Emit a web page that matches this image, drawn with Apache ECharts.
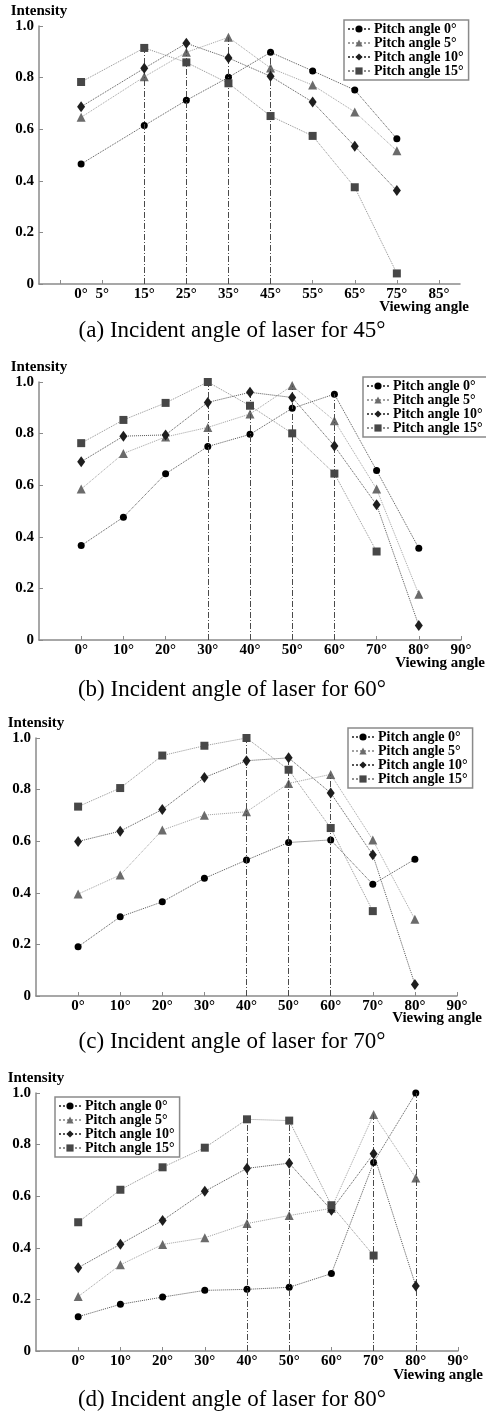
<!DOCTYPE html>
<html>
<head>
<meta charset="utf-8">
<script src="https://cdn.jsdelivr.net/npm/echarts@6/dist/echarts.min.js"></script>
<style>
  html, body { margin: 0; background: #fff; }
  #chart { width: 486px; height: 1414px; }
</style>
</head>
<body>
<div id="chart"></div>
<script>
// data
const pitchNames = ['Pitch angle 0°', 'Pitch angle 5°', 'Pitch angle 10°', 'Pitch angle 15°']
const captions = [
  '(a) Incident angle of laser for 45°',
  '(b) Incident angle of laser for 60°',
  '(c) Incident angle of laser for 70°',
  '(d) Incident angle of laser for 80°'
]

// (a) incident 45°
const anglesA = [0, 15, 25, 35, 45, 55, 65, 75]
const pitch0A = [0.465, 0.614, 0.712, 0.801, 0.898, 0.826, 0.752, 0.563]
const pitch5A = [0.646, 0.803, 0.898, 0.956, 0.837, 0.771, 0.667, 0.516]
const pitch10A = [0.687, 0.836, 0.933, 0.876, 0.805, 0.705, 0.534, 0.362]
const pitch15A = [0.783, 0.915, 0.859, 0.778, 0.651, 0.574, 0.375, 0.041]
const dropsA = [[45], [35], [25], [15]]
const tickValuesA = [-5, 5, 15, 25, 35, 45, 55, 65, 75, 85]
const labelValuesA = [0, 5, 15, 25, 35, 45, 55, 65, 75, 85]

// (b), (c), (d) share the same viewing angles
const angles = [0, 10, 20, 30, 40, 50, 60, 70, 80]
const tickValues = [0, 10, 20, 30, 40, 50, 60, 70, 80, 90]
const labelValues = [0, 10, 20, 30, 40, 50, 60, 70, 80, 90]

// (b) incident 60°
const pitch0B = [0.366, 0.476, 0.644, 0.750, 0.797, 0.898, 0.953, 0.657, 0.356]
const pitch5B = [0.585, 0.723, 0.787, 0.824, 0.876, 0.986, 0.850, 0.585, 0.177]
const pitch10B = [0.691, 0.790, 0.795, 0.921, 0.960, 0.940, 0.752, 0.524, 0.056]
const pitch15B = [0.763, 0.853, 0.919, 1.0, 0.908, 0.801, 0.645, 0.343, null]
const dropsB = [[60], [50], [40], [30]]

// (c) incident 70°
const pitch0C = [0.191, 0.307, 0.365, 0.456, 0.527, 0.595, 0.605, 0.433, 0.530]
const pitch5C = [0.395, 0.469, 0.643, 0.701, 0.714, 0.824, 0.859, 0.605, 0.297]
const pitch10C = [0.599, 0.639, 0.723, 0.847, 0.912, 0.923, 0.787, 0.547, 0.045]
const pitch15C = [0.734, 0.806, 0.932, 0.970, 1.0, 0.877, 0.651, 0.329, null]
const dropsC = [[60], [60], [50], [40]]

// (d) incident 80°
const pitch0D = [0.133, 0.181, 0.209, 0.235, 0.239, 0.247, 0.300, 0.731, 1.0]
const pitch5D = [0.211, 0.334, 0.413, 0.439, 0.494, 0.525, 0.553, 0.917, 0.671]
const pitch10D = [0.323, 0.414, 0.506, 0.619, 0.708, 0.728, 0.546, 0.765, 0.252]
const pitch15D = [0.499, 0.625, 0.712, 0.788, 0.898, 0.893, 0.565, 0.370, null]
const dropsD = [[80], [70], [70], [40, 50]]

const yTicks = [0, 0.2, 0.4, 0.6, 0.8, 1.0]

const panels = [
  { x: anglesA, series: [pitch0A, pitch5A, pitch10A, pitch15A], drops: dropsA, ticks: tickValuesA, labels: labelValuesA, step: 5 },
  { x: angles, series: [pitch0B, pitch5B, pitch10B, pitch15B], drops: dropsB, ticks: tickValues, labels: labelValues, step: 10 },
  { x: angles, series: [pitch0C, pitch5C, pitch10C, pitch15C], drops: dropsC, ticks: tickValues, labels: labelValues, step: 10 },
  { x: angles, series: [pitch0D, pitch5D, pitch10D, pitch15D], drops: dropsD, ticks: tickValues, labels: labelValues, step: 10 }
]

// layout (pixels) and looks
const grids = [
  { left: 39, top: 26, width: 421, height: 258 },
  { left: 39, top: 382, width: 422, height: 258 },
  { left: 36, top: 738, width: 421, height: 258 },
  { left: 36, top: 1093, width: 422, height: 258 }
]
const legendPos = [
  { left: 344, top: 20 },
  { left: 363, top: 377 },
  { left: 348, top: 728 },
  { left: 55, top: 1097 }
]
const xNamePos = [[469, 307], [485, 663], [482, 1018], [483, 1375]]
const captionPos = [[232, 331], [232, 690], [232, 1042], [232, 1400]]

const looks = [
  { symbol: 'circle', size: 7, color: '#000', line: '#555' },
  { symbol: 'triangle', size: 9, color: '#6b6b6b', line: '#a0a0a0' },
  { symbol: 'diamond', size: [8, 11], color: '#1e1e1e', line: '#555' },
  { symbol: 'rect', size: 8, color: '#474747', line: '#909090' }
]

const serif = '"Liberation Serif", "Times New Roman", serif'
const axisGray = '#8a8a8a'

const series = []
panels.forEach((p, gi) => {
  p.series.forEach((vals, si) => {
    const look = looks[si]
    const pts = p.x.map((a, i) => [a, vals[i]]).filter(d => d[1] !== null)
    const yAt = a => vals[p.x.indexOf(a)]
    series.push({
      name: pitchNames[si],
      type: 'line',
      xAxisIndex: gi,
      yAxisIndex: gi,
      data: pts,
      symbol: look.symbol,
      symbolSize: look.size,
      itemStyle: { color: look.color },
      lineStyle: { color: look.line, width: 1, type: 'dotted' },
      z: 3 + si,
      markLine: {
        silent: true,
        symbol: 'none',
        label: { show: false },
        lineStyle: { color: '#4a4a4a', width: 1, type: [6, 2, 1, 2] },
        // drawn from the axis upward so overlapping drops share one dash pattern
        data: p.drops[si].map(a => [{ coord: [a, 0] }, { coord: [a, yAt(a)] }])
      }
    })
  })
})

const graphic = []
xNamePos.forEach(([x, y]) => {
  graphic.push({
    type: 'text', x, y,
    style: { text: 'Viewing angle', textAlign: 'right', textVerticalAlign: 'middle', font: `bold 15px ${serif}`, fill: '#000' }
  })
})
captionPos.forEach(([x, y], i) => {
  graphic.push({
    type: 'text', x, y,
    style: { text: captions[i], textAlign: 'center', textVerticalAlign: 'middle', font: `23px ${serif}`, fill: '#000' }
  })
})

const option = {
  animation: false,
  backgroundColor: '#fff',
  grid: grids,
  xAxis: panels.map((p, i) => ({
    type: 'value',
    gridIndex: i,
    min: -10,
    max: 90,
    interval: p.step,
    splitLine: { show: false },
    axisLine: { onZero: false, lineStyle: { color: axisGray, width: 1.5 } },
    axisTick: { inside: true, length: 4, customValues: p.ticks, lineStyle: { color: axisGray } },
    axisLabel: {
      customValues: p.labels,
      formatter: v => v + '°',
      margin: 3,
      color: '#000',
      fontFamily: serif,
      fontWeight: 'bold',
      fontSize: 15
    }
  })),
  yAxis: panels.map((p, i) => ({
    type: 'value',
    gridIndex: i,
    min: 0,
    max: 1,
    interval: 0.2,
    name: 'Intensity',
    nameLocation: 'end',
    nameGap: 6,
    nameTextStyle: { color: '#000', fontFamily: serif, fontWeight: 'bold', fontSize: 15 },
    splitLine: { show: false },
    axisLine: { show: true, onZero: false, lineStyle: { color: axisGray, width: 1.5 } },
    axisTick: { show: true, inside: true, length: 4, customValues: yTicks, lineStyle: { color: axisGray } },
    axisLabel: {
      formatter: v => (v === 0 ? '0' : v.toFixed(1)),
      margin: 5,
      color: '#000',
      fontFamily: serif,
      fontWeight: 'bold',
      fontSize: 15
    }
  })),
  legend: legendPos.map(pos => ({
    ...pos,
    orient: 'vertical',
    data: pitchNames,
    itemGap: 0,
    itemWidth: 22,
    itemHeight: 9,
    padding: [2, 5, 2, 3],
    borderColor: axisGray,
    borderWidth: 1.5,
    borderRadius: 0,
    textStyle: { color: '#000', fontFamily: serif, fontWeight: 'bold', fontSize: 14, padding: [0, 0, 0, -1] }
  })),
  graphic,
  series
}

const myChart = echarts.init(document.getElementById('chart'))
myChart.setOption(option)
</script>
</body>
</html>
